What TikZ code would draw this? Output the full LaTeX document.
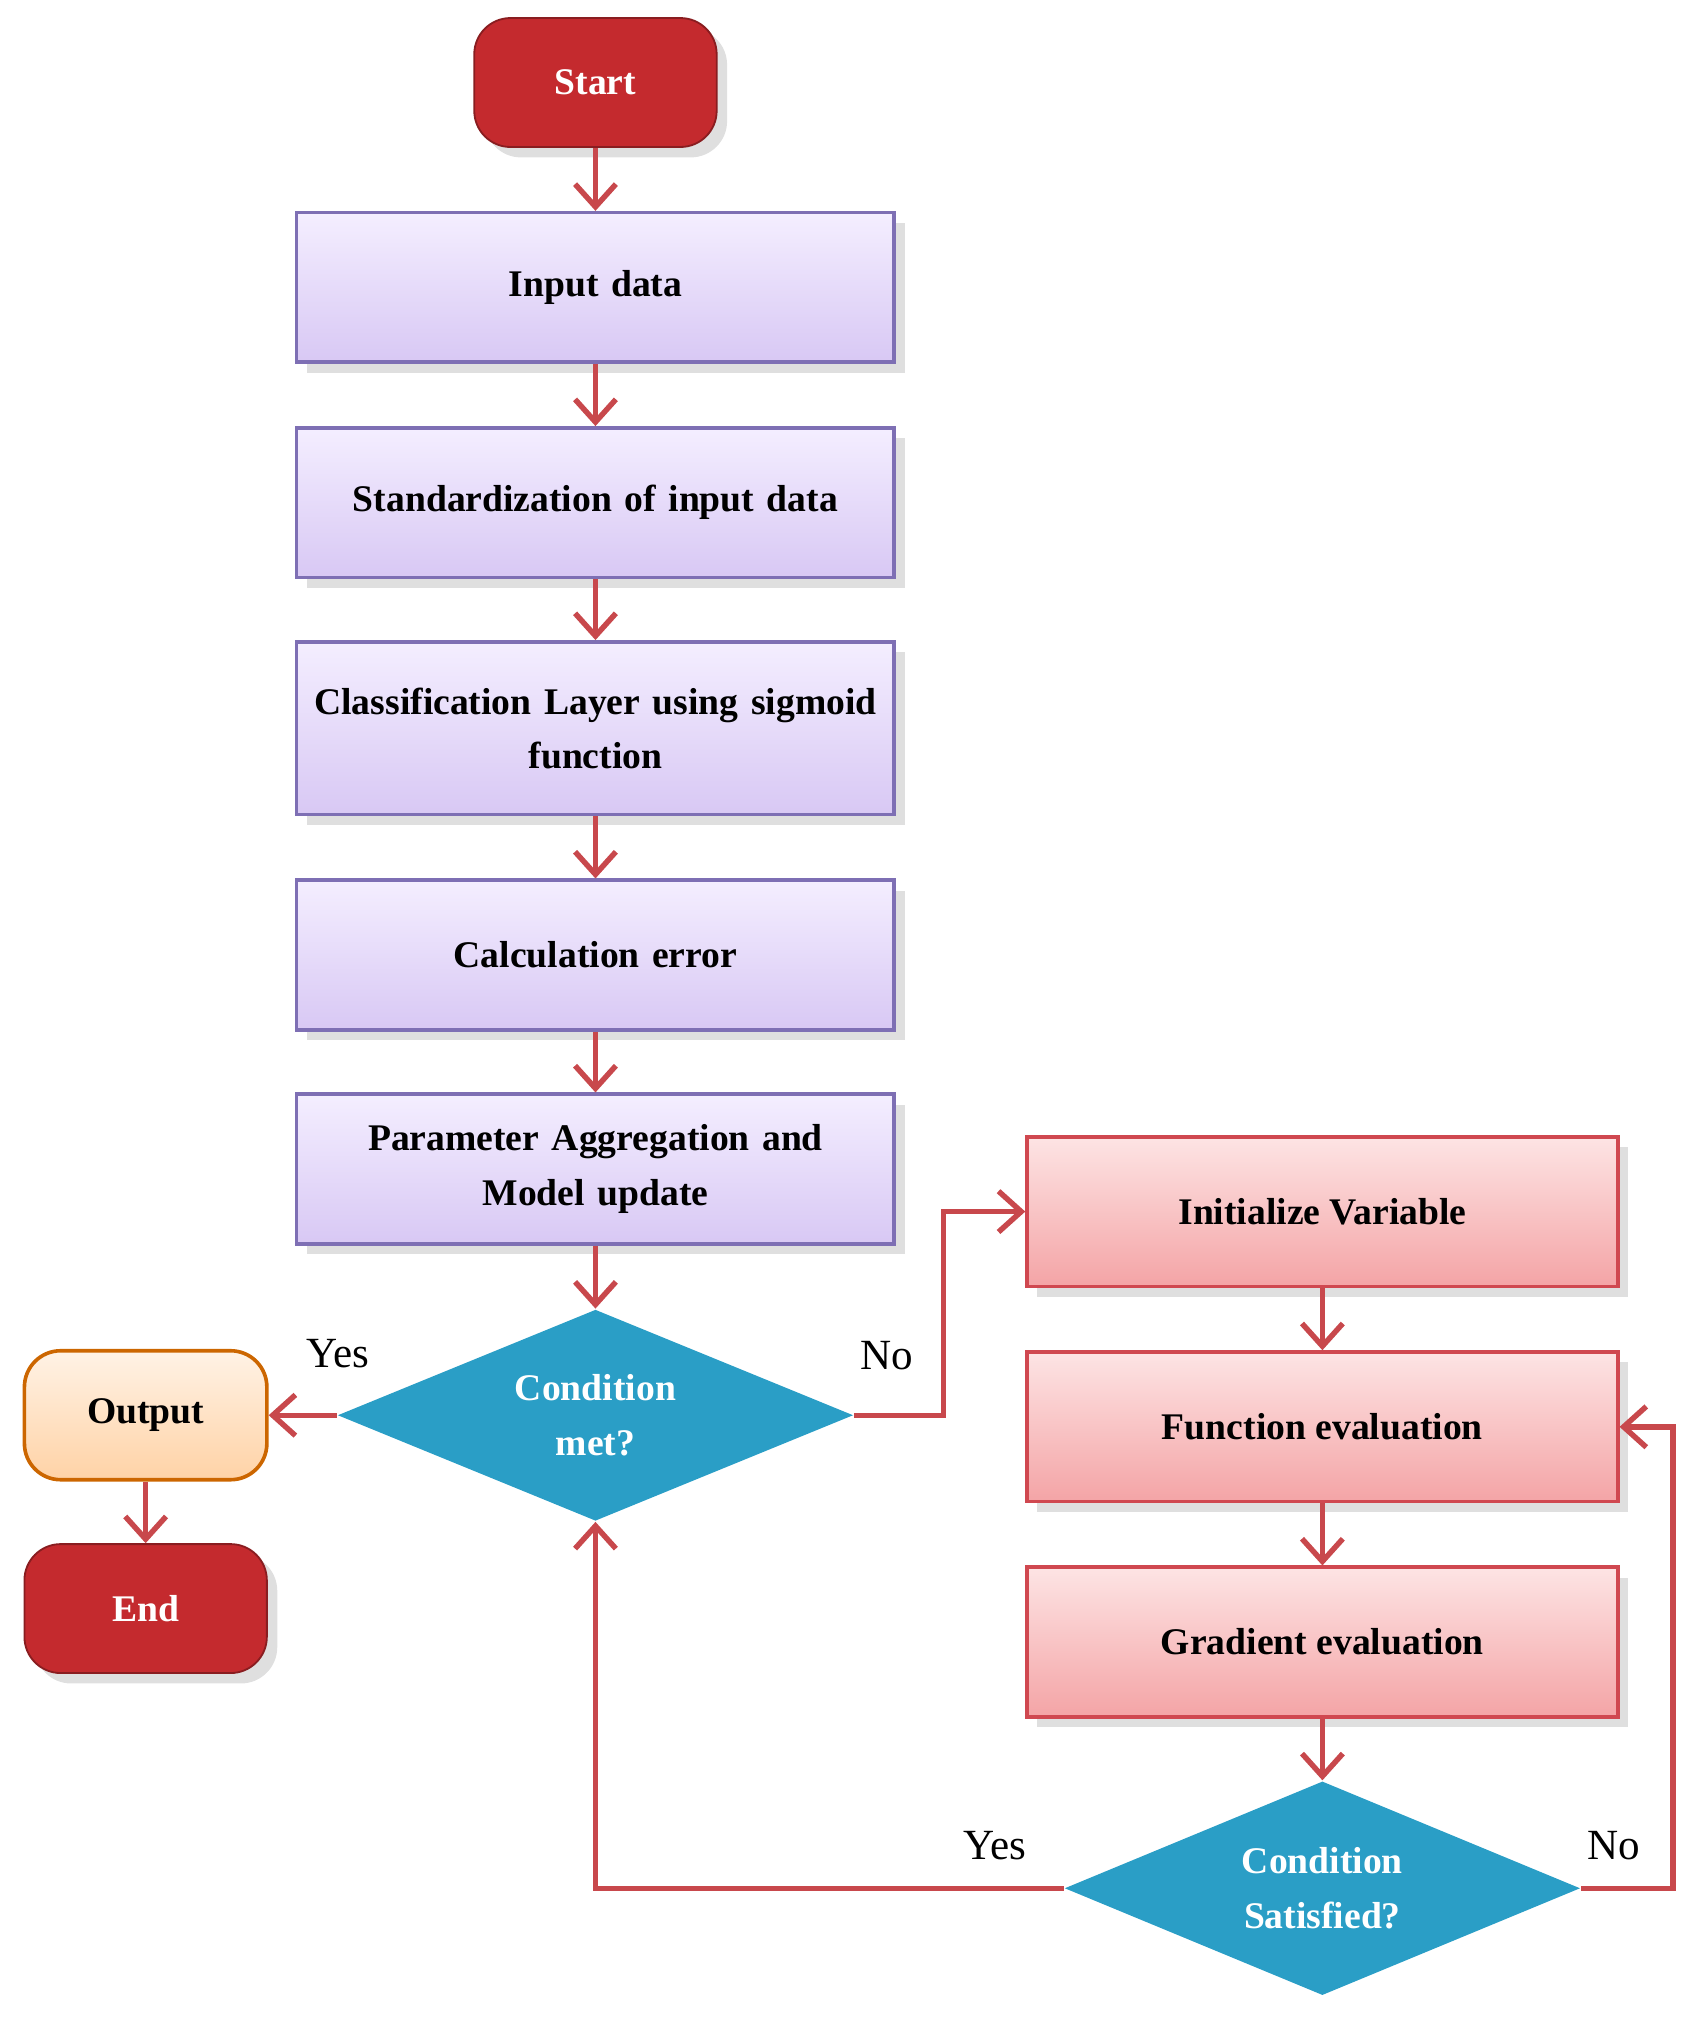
\documentclass[tikz,border=0pt]{standalone}
\usepackage{fontspec}
\setmainfont{Liberation Serif}
\usetikzlibrary{shapes.geometric,arrows.meta,shadows}
\definecolor{arr}{HTML}{C8484C}
\definecolor{pb}{HTML}{7E6FB4}
\definecolor{pf1}{HTML}{F4EEFF}
\definecolor{pf2}{HTML}{D8C8F4}
\definecolor{rb}{HTML}{D04850}
\definecolor{rf1}{HTML}{FDE4E4}
\definecolor{rf2}{HTML}{F4A4A6}
\definecolor{dr}{HTML}{C42A2E}
\definecolor{dia}{HTML}{2A9EC6}
\begin{document}
\begin{tikzpicture}[x=0.01cm,y=-0.01cm,
 every node/.style={font=\fontsize{8.3}{12}\selectfont\bfseries, align=center},
 pbox/.style={draw=pb, line width=0.8pt, top color=pf1, bottom color=pf2, minimum width=4.56cm, minimum height=1.16cm, text width=4.4cm, drop shadow={opacity=0.25}},
 rbox/.style={draw=rb, line width=0.8pt, top color=rf1, bottom color=rf2, minimum width=4.58cm, minimum height=1.16cm, drop shadow={opacity=0.25}},
 term/.style={draw=dr!70!black, fill=dr, text=white, rounded corners=8pt, minimum width=1.88cm, minimum height=1.0cm, drop shadow={opacity=0.25}},
 dmd/.style={diamond, fill=dia, text=white, aspect=2.4, inner sep=0pt},
 lab/.style={font=\fontsize{9.5}{12}\selectfont},
 ar/.style={draw=arr, line width=1.2pt, -{Straight Barb[length=5pt,width=9pt]}}]
\useasboundingbox (0,0) rectangle (1316,1568);
\node[term] (start) at (462,64) {Start};
\node[pbox] (in) at (462,223) {Input data};
\node[pbox] (std) at (462,390) {Standardization of input data};
\node[pbox, minimum height=1.34cm] (cls) at (462,565) {Classification Layer using sigmoid\\function};
\node[pbox] (err) at (462,741) {Calculation error};
\node[pbox] (par) at (462,907) {Parameter Aggregation and\\Model update};
\node[dmd, minimum width=4.0cm, minimum height=1.64cm] (c1) at (462,1098) {Condition\\met?};
\node[draw=orange!80!black, line width=0.8pt, top color=orange!10, bottom color=orange!35, rounded corners=8pt, minimum width=1.88cm, minimum height=1.0cm] (out) at (113,1098) {Output};
\node[term] (end) at (113,1248) {End};
\node[rbox] (ini) at (1026,940) {Initialize Variable};
\node[rbox] (fe) at (1026,1107) {Function evaluation};
\node[rbox] (ge) at (1026,1274) {Gradient evaluation};
\node[dmd, minimum width=4.0cm, minimum height=1.66cm] (c2) at (1026,1465) {Condition\\Satisfied?};
\draw[ar] (start) -- (in);
\draw[ar] (in) -- (std);
\draw[ar] (std) -- (cls);
\draw[ar] (cls) -- (err);
\draw[ar] (err) -- (par);
\draw[ar] (par) -- (c1);
\draw[ar] (c1.west) -- (out.east);
\draw[ar] (out) -- (end);
\draw[ar] (c1.east) -- (732,1098) -- (732,940) -- (ini.west);
\draw[ar] (ini) -- (fe);
\draw[ar] (fe) -- (ge);
\draw[ar] (ge) -- (c2);
\draw[ar] (c2.east) -- (1298,1465) -- (1298,1107) -- (fe.east);
\draw[ar] (c2.west) -- (462,1465) -- (c1.south);
\node[lab] at (262,1050) {Yes};
\node[lab] at (688,1052) {No};
\node[lab] at (772,1432) {Yes};
\node[lab] at (1252,1432) {No};
\end{tikzpicture}
\end{document}
